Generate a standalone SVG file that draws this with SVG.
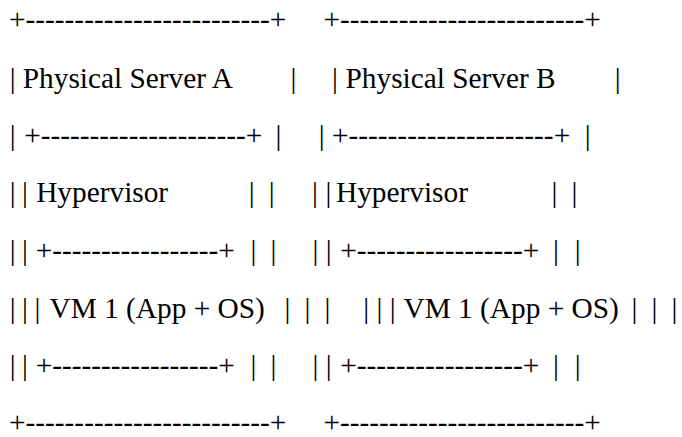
<svg xmlns="http://www.w3.org/2000/svg" width="682" height="437" viewBox="0 0 682 437">
<style>
text{font-family:"Liberation Serif","Times New Roman",serif;font-size:29.333px;fill:#000;}
</style>
<rect width="682" height="437" fill="#fff"/>
<g id="server-a" font-family="Liberation Serif, serif">
<text x="9" y="29">+-------------------------+</text>
<text x="9.8" y="88">|</text><text x="22.8" y="88">Physical Server A</text><text x="290.4" y="88">|</text>
<text x="9.8" y="144.5">|</text><text x="24.2" y="144.5">+---------------------+</text><text x="275.4" y="144.5">|</text>
<text x="9.8" y="202">|</text><text x="22.1" y="202">|</text><text x="36.2" y="202">Hypervisor</text><text x="248.8" y="202">|</text><text x="268.8" y="202">|</text>
<text x="9.8" y="260">|</text><text x="22.1" y="260">|</text><text x="35.7" y="260">+-----------------+</text><text x="250.4" y="260">|</text><text x="270.4" y="260">|</text>
<text x="9.8" y="317.5">|</text><text x="22.1" y="317.5">|</text><text x="34.4" y="317.5">|</text><text x="49.5" y="317.5">VM 1 (App + OS)</text><text x="284.4" y="317.5">|</text><text x="304.4" y="317.5">|</text><text x="324.4" y="317.5">|</text>
<text x="9.8" y="374.5">|</text><text x="22.1" y="374.5">|</text><text x="35.7" y="374.5">+-----------------+</text><text x="250.4" y="374.5">|</text><text x="270.4" y="374.5">|</text>
<text x="9" y="431.5">+-------------------------+</text>
</g>
<g id="server-b" font-family="Liberation Serif, serif">
<text x="323.5" y="29">+-------------------------+</text>
<text x="332.1" y="88">|</text><text x="345.5" y="88">Physical Server B</text><text x="614.8" y="88">|</text>
<text x="318.8" y="144.5">|</text><text x="332" y="144.5">+---------------------+</text><text x="584.8" y="144.5">|</text>
<text x="312.1" y="202">|</text><text x="325.4" y="202">|</text><text x="336" y="202">Hypervisor</text><text x="551.4" y="202">|</text><text x="571.4" y="202">|</text>
<text x="312.5" y="260">|</text><text x="325.7" y="260">|</text><text x="340.2" y="260">+-----------------+</text><text x="553.1" y="260">|</text><text x="574.8" y="260">|</text>
<text x="363.3" y="317.5">|</text><text x="376.5" y="317.5">|</text><text x="389.7" y="317.5">|</text><text x="403.5" y="317.5">VM 1 (App + OS)</text><text x="631.4" y="317.5">|</text><text x="651.4" y="317.5">|</text><text x="671.4" y="317.5">|</text>
<text x="312.5" y="374.5">|</text><text x="325.7" y="374.5">|</text><text x="340.2" y="374.5">+-----------------+</text><text x="553.1" y="374.5">|</text><text x="574.8" y="374.5">|</text>
<text x="323.5" y="431.5">+-------------------------+</text>
</g>
</svg>
